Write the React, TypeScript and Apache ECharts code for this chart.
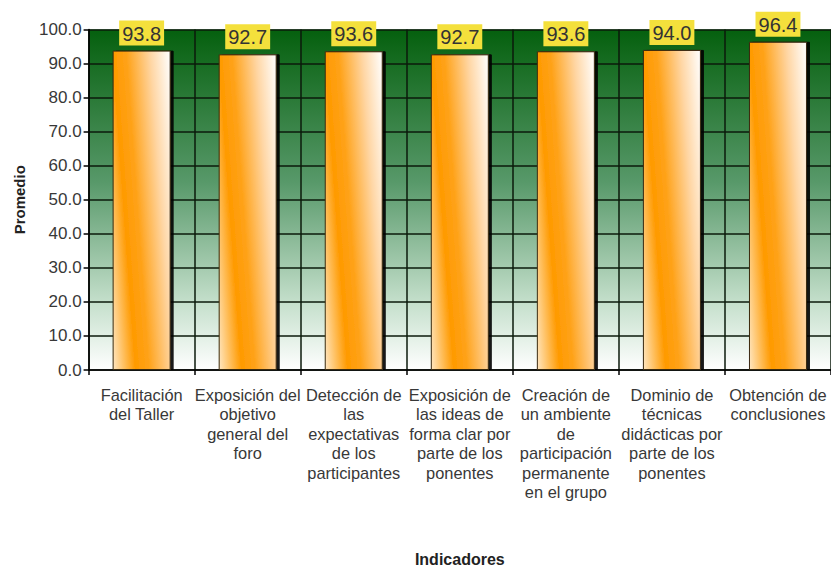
import { useEffect, useRef } from "react";
import * as echarts from "echarts";

const categories = [
  "Facilitación\ndel Taller",
  "Exposición del\nobjetivo\ngeneral del\nforo",
  "Detección de\nlas\nexpectativas\nde los\nparticipantes",
  "Exposición de\nlas ideas de\nforma clar por\nparte de los\nponentes",
  "Creación de\nun ambiente\nde\nparticipación\npermanente\nen el grupo",
  "Dominio de\ntécnicas\ndidácticas por\nparte de los\nponentes",
  "Obtención de\nconclusiones",
];
const values = [93.8, 92.7, 93.6, 92.7, 93.6, 94.0, 96.4];
const yMin = 0;
const yMax = 100;
const yInterval = 10;
const xTitle = "Indicadores";
const yTitle = "Promedio";

export default function App() {
  const ref = useRef<HTMLDivElement>(null);
  useEffect(() => {
    const chart = echarts.init(ref.current!, null, { renderer: "svg" });
    const font = "'Liberation Sans', Arial, sans-serif";
    chart.setOption({
      animation: false,
      grid: {
        left: 88.6,
        right: -9.4,
        top: 29.5,
        bottom: 200,
        show: true,
        borderWidth: 0,
        backgroundColor: {
          type: "linear",
          x: 0,
          y: 0,
          x2: 0,
          y2: 1,
          colorStops: [
            { offset: 0, color: "#05600E" },
            { offset: 0.45, color: "#58996A" },
            { offset: 0.8, color: "#C4DFCB" },
            { offset: 1, color: "#FFFFFF" },
          ],
        },
      },
      xAxis: {
        type: "category",
        data: categories,
        name: xTitle,
        nameLocation: "middle",
        nameGap: 181,
        nameTextStyle: { fontFamily: font, fontSize: 16, fontWeight: "bold", color: "#222" },
        axisLine: { lineStyle: { color: "#000", width: 1.5 } },
        axisTick: { show: true, length: 5, interval: 0, lineStyle: { color: "#000", width: 1.5 } },
        splitLine: { show: true, interval: 0, lineStyle: { color: "#0b1a0b", width: 1.5 } },
        axisLabel: {
          interval: 0,
          margin: 15,
          fontFamily: font,
          fontSize: 16.4,
          lineHeight: 19.5,
          color: "#383838",
        },
      },
      yAxis: {
        type: "value",
        min: yMin,
        max: yMax,
        interval: yInterval,
        name: yTitle,
        nameLocation: "middle",
        nameRotate: 90,
        nameGap: 62,
        nameTextStyle: { fontFamily: font, fontSize: 15, fontWeight: "bold", color: "#222" },
        axisLine: { show: true, lineStyle: { color: "#000", width: 1.5 } },
        axisTick: { show: true, length: 5, lineStyle: { color: "#000", width: 1.5 } },
        splitLine: { show: true, lineStyle: { color: "#0b1a0b", width: 1.5 } },
        axisLabel: {
          margin: 7,
          fontFamily: font,
          fontSize: 17,
          color: "#383838",
          formatter: (v: number) => v.toFixed(1),
        },
      },
      series: [
        {
          type: "bar",
          data: values,
          barWidth: 58,
          itemStyle: {
            color: {
              type: "linear",
              x: 0,
              y: 1,
              x2: 1.207,
              y2: 0.517,
              colorStops: [
                { offset: 0, color: "#FFE6C0" },
                { offset: 0.28, color: "#FF9A00" },
                { offset: 0.45, color: "#FFA218" },
                { offset: 0.75, color: "#FFD6A4" },
                { offset: 1, color: "#FFFFFF" },
              ],
            },
            borderColor: "#3a2a10",
            borderWidth: 1,
            shadowColor: "rgba(0,0,0,0.9)",
            shadowOffsetX: 3,
            shadowBlur: 0,
          },
          label: {
            show: true,
            position: "top",
            distance: 5,
            formatter: (p: any) => Number(p.value).toFixed(1),
            fontFamily: font,
            fontSize: 20,
            lineHeight: 22,
            color: "#333",
            backgroundColor: "#F4E03C",
            padding: [2, 3, 1, 3],
          },
        },
      ],
    });
    return () => chart.dispose();
  }, []);
  return (
    <div
      ref={ref}
      style={{ position: "absolute", left: 0, top: 0, width: 831, height: 572 }}
    />
  );
}
